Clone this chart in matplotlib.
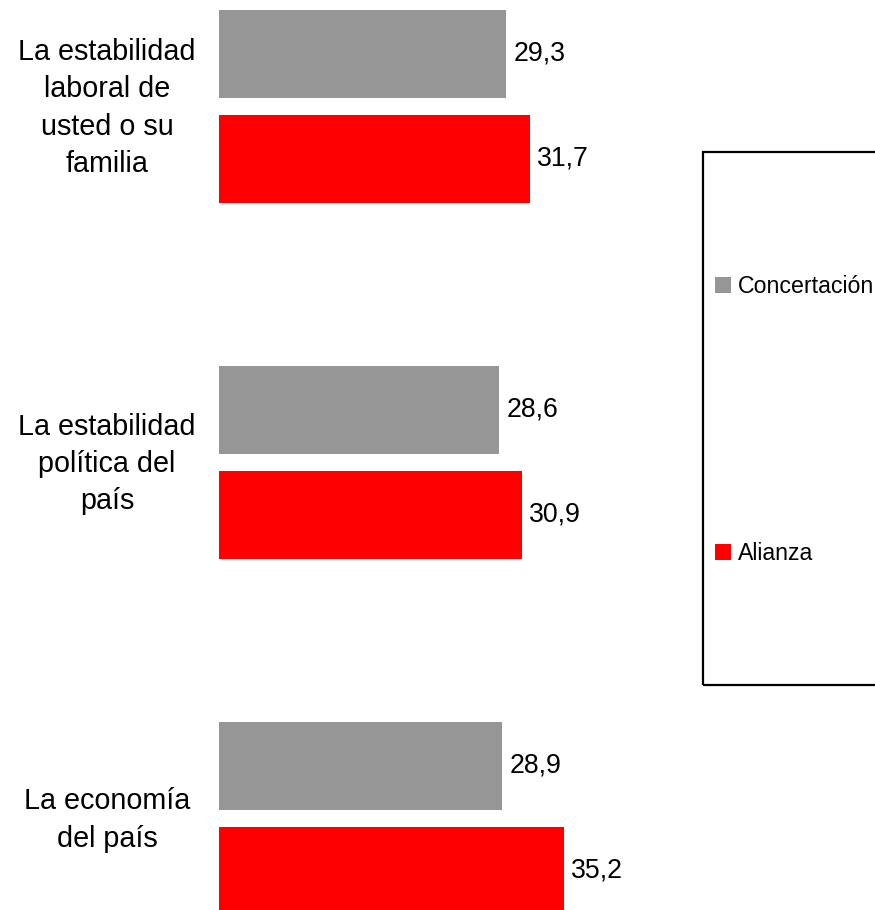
import matplotlib
matplotlib.use("Agg")
import matplotlib.pyplot as plt
from matplotlib.patches import Rectangle, Patch
from matplotlib.transforms import blended_transform_factory

plt.rcParams['font.family'] = ['Liberation Sans', 'DejaVu Sans']

categories = ["La estabilidad\nlaboral de\nusted o su\nfamilia",
              "La estabilidad\npolítica del\npaís",
              "La economía\ndel país"]
series_names = ["Concertación", "Alianza"]
concertacion = [29.3, 28.6, 28.9]
alianza = [31.7, 30.9, 35.2]
colors = ["#969696", "#FF0000"]

W, H = 875, 910
fig = plt.figure(figsize=(W / 100, H / 100), dpi=100)
x0 = 219
ppu = 9.8
ax = fig.add_axes([x0 / W, 0, (W - x0) / W, 1])
ax.set_xlim(0, (W - x0) / ppu)
gs = 356.0
c0 = 106.0
ax.set_ylim((H - c0) / gs, -c0 / gs)
ax.axis('off')

bh = 88 / gs
off = 52.5 / gs
ys = list(range(len(categories)))
for vals, sign, col in [(concertacion, -1, colors[0]), (alianza, 1, colors[1])]:
    pos = [y + sign * off for y in ys]
    ax.barh(pos, vals, height=bh, color=col, edgecolor='none')
    for p, v in zip(pos, vals):
        ax.annotate(f"{v:.1f}".replace('.', ','), xy=(v, p), xytext=(7, 0),
                    textcoords='offset pixels', ha='left', va='center',
                    fontsize=19.2, color='black')

tr = blended_transform_factory(fig.transFigure, ax.transData)
for y, lab in zip(ys, categories):
    ax.annotate(lab, xy=(107 / W, y), xycoords=tr, xytext=(0, -2),
                textcoords='offset pixels', ha='center', va='center',
                multialignment='center', fontsize=20.7, linespacing=1.42,
                annotation_clip=False)

# legend frame
fig.patches.append(Rectangle((703 / W, 1 - 685 / H), (W + 20 - 703) / W, (685 - 152) / H,
                             transform=fig.transFigure, fill=False, edgecolor='black',
                             linewidth=1.6, clip_on=True))
handles = [Patch(facecolor=c, edgecolor='none') for c in colors]
fig.legend(handles, series_names, loc='center left',
           bbox_to_anchor=(715 / W, 1 - 420 / H), frameon=False, fontsize=16.7,
           handlelength=0.7, handleheight=0.7, handletextpad=0.28,
           labelspacing=10.5, borderpad=0, borderaxespad=0)

fig.savefig("out.png", dpi=100)
